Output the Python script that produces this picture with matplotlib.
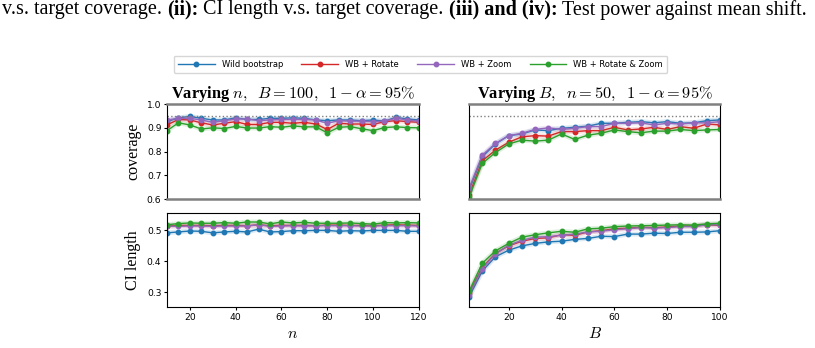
import matplotlib
matplotlib.use("Agg")
import matplotlib.pyplot as plt
import numpy as np

plt.rcParams["mathtext.fontset"] = "cm"
plt.rcParams["font.family"] = "DejaVu Sans"

n_vals = list(range(10, 121, 5))
B_vals = list(range(5, 101, 5))

labels = ["Wild bootstrap", "WB + Rotate", "WB + Zoom", "WB + Rotate & Zoom"]
colors = ["#1f77b4", "#d62728", "#9467bd", "#2ca02c"]

# coverage, varying n
cov_n = {
    "Wild bootstrap": [0.926, 0.942, 0.948, 0.940, 0.933, 0.933, 0.942, 0.935, 0.935, 0.940, 0.940,
                       0.942, 0.940, 0.933, 0.930, 0.933, 0.933, 0.930, 0.933, 0.928, 0.944, 0.937, 0.933],
    "WB + Rotate": [0.912, 0.935, 0.933, 0.921, 0.912, 0.919, 0.926, 0.914, 0.914, 0.923, 0.923,
                    0.919, 0.923, 0.916, 0.893, 0.919, 0.916, 0.916, 0.914, 0.926, 0.930, 0.926, 0.923],
    "WB + Zoom": [0.933, 0.940, 0.940, 0.933, 0.923, 0.930, 0.937, 0.937, 0.930, 0.933, 0.935,
                  0.935, 0.935, 0.933, 0.919, 0.930, 0.928, 0.928, 0.926, 0.928, 0.940, 0.933, 0.928],
    "WB + Rotate & Zoom": [0.888, 0.921, 0.912, 0.895, 0.900, 0.897, 0.906, 0.899, 0.899, 0.905, 0.902,
                           0.908, 0.904, 0.904, 0.879, 0.902, 0.905, 0.896, 0.888, 0.901, 0.904, 0.901, 0.900],
}

# coverage, varying B
cov_B = {
    "Wild bootstrap": [0.638, 0.778, 0.832, 0.867, 0.874, 0.891, 0.888, 0.898, 0.902, 0.907,
                       0.919, 0.919, 0.923, 0.926, 0.921, 0.926, 0.919, 0.921, 0.930, 0.933],
    "WB + Rotate": [0.617, 0.761, 0.806, 0.839, 0.862, 0.867, 0.865, 0.884, 0.884, 0.888,
                    0.888, 0.902, 0.891, 0.895, 0.902, 0.893, 0.905, 0.898, 0.916, 0.912],
    "WB + Zoom": [0.645, 0.785, 0.834, 0.867, 0.877, 0.893, 0.900, 0.893, 0.898, 0.905,
                  0.905, 0.919, 0.919, 0.921, 0.912, 0.919, 0.916, 0.921, 0.921, 0.926],
    "WB + Rotate & Zoom": [0.607, 0.750, 0.796, 0.832, 0.848, 0.844, 0.848, 0.874, 0.851, 0.869,
                           0.877, 0.891, 0.884, 0.879, 0.886, 0.886, 0.893, 0.888, 0.891, 0.893],
}

# CI length, varying n
len_n = {
    "Wild bootstrap": [0.492, 0.495, 0.498, 0.497, 0.492, 0.495, 0.497, 0.495, 0.504, 0.495, 0.496,
                       0.499, 0.499, 0.500, 0.500, 0.497, 0.499, 0.498, 0.500, 0.500, 0.500, 0.497, 0.497],
    "WB + Rotate": [0.514, 0.516, 0.516, 0.516, 0.515, 0.516, 0.516, 0.515, 0.518, 0.515, 0.516,
                    0.516, 0.516, 0.515, 0.517, 0.517, 0.516, 0.516, 0.515, 0.517, 0.518, 0.517, 0.516],
    "WB + Zoom": [0.514, 0.513, 0.514, 0.514, 0.513, 0.514, 0.514, 0.514, 0.518, 0.513, 0.514,
                  0.515, 0.514, 0.515, 0.515, 0.515, 0.515, 0.514, 0.514, 0.515, 0.515, 0.515, 0.514],
    "WB + Rotate & Zoom": [0.518, 0.522, 0.524, 0.523, 0.523, 0.525, 0.523, 0.527, 0.527, 0.521, 0.527,
                           0.524, 0.526, 0.523, 0.523, 0.523, 0.524, 0.522, 0.520, 0.525, 0.524, 0.525, 0.524],
}

# CI length, varying B
len_B = {
    "Wild bootstrap": [0.285, 0.369, 0.415, 0.436, 0.450, 0.458, 0.463, 0.465, 0.471, 0.474,
                       0.481, 0.480, 0.488, 0.488, 0.491, 0.490, 0.494, 0.494, 0.495, 0.499],
    "WB + Rotate": [0.298, 0.380, 0.426, 0.450, 0.465, 0.474, 0.476, 0.486, 0.484, 0.495,
                    0.499, 0.505, 0.507, 0.510, 0.509, 0.511, 0.514, 0.514, 0.518, 0.516],
    "WB + Zoom": [0.293, 0.377, 0.424, 0.452, 0.468, 0.478, 0.480, 0.484, 0.488, 0.495,
                  0.497, 0.502, 0.505, 0.509, 0.507, 0.509, 0.512, 0.512, 0.518, 0.518],
    "WB + Rotate & Zoom": [0.303, 0.394, 0.434, 0.458, 0.478, 0.486, 0.492, 0.497, 0.494, 0.505,
                           0.507, 0.512, 0.514, 0.515, 0.516, 0.517, 0.518, 0.517, 0.521, 0.523],
}

target = 0.95

fig = plt.figure(figsize=(8.15, 3.48), dpi=100)
ax_cn = fig.add_axes([0.2049, 0.428, 0.309, 0.273])
ax_cB = fig.add_axes([0.5755, 0.428, 0.308, 0.273], sharey=ax_cn)
ax_ln = fig.add_axes([0.2049, 0.117, 0.309, 0.270], sharex=ax_cn)
ax_lB = fig.add_axes([0.5755, 0.117, 0.308, 0.270], sharex=ax_cB, sharey=ax_ln)


def draw(ax, x, data):
    for lab, c in zip(labels, colors):
        ax.plot(x, data[lab], color=c, lw=3.5, alpha=0.15, solid_capstyle="round")
        ax.plot(x, data[lab], color=c, lw=1.0, marker="o", ms=3.2, label=lab)


draw(ax_cn, n_vals, cov_n)
draw(ax_cB, B_vals, cov_B)
draw(ax_ln, n_vals, len_n)
draw(ax_lB, B_vals, len_B)

for ax in (ax_cn, ax_cB):
    ax.axhline(target, color="gray", ls=":", lw=1.0)
    ax.set_ylim(0.6, 1.0)
    ax.spines["top"].set_color("gray")
    ax.spines["bottom"].set_color("gray")
    ax.spines["top"].set_linewidth(1.8)
    ax.spines["bottom"].set_linewidth(1.8)
    ax.tick_params(axis="x", bottom=False, labelbottom=False)

ax_cn.set_yticks([0.6, 0.7, 0.8, 0.9, 1.0])
ax_ln.set_ylim(0.252, 0.555)
ax_ln.set_yticks([0.3, 0.4, 0.5])
ax_cn.set_xlim(10, 120)
ax_cB.set_xlim(5, 100)
ax_ln.set_xticks([20, 40, 60, 80, 100, 120])
ax_lB.set_xticks([20, 40, 60, 80, 100])

for ax in (ax_cB, ax_lB):
    ax.tick_params(axis="y", left=False, labelleft=False)

for ax in (ax_cn, ax_cB, ax_ln, ax_lB):
    ax.tick_params(labelsize=6.6, length=2.5, width=0.8, pad=1.5)

serif = "Liberation Serif"
ax_cn.set_title(r"Varying $n,\;\; B = 100,\;\; 1-\alpha = 95\%$", fontsize=11.8,
                fontweight="bold", family=serif, pad=3)
ax_cB.set_title(r"Varying $B,\;\; n = 50,\;\; 1-\alpha = 95\%$", fontsize=11.8,
                fontweight="bold", family=serif, pad=3)
ax_cn.set_ylabel("coverage", fontsize=11.5, family=serif, labelpad=4)
ax_ln.set_ylabel("CI length", fontsize=11.5, family=serif, labelpad=4)
ax_ln.set_xlabel(r"$n$", fontsize=11.5, labelpad=3)
ax_lB.set_xlabel(r"$B$", fontsize=11.5, labelpad=3)

handles, leg_labels = ax_cn.get_legend_handles_labels()
keep = [i for i, h in enumerate(handles) if h.get_marker() == "o"]
fig.legend([handles[i] for i in keep], [leg_labels[i] for i in keep],
           loc="center", bbox_to_anchor=(0.516, 0.815), ncol=4, fontsize=6,
           frameon=True, handlelength=4.4, columnspacing=2.2, borderpad=0.5,
           handletextpad=0.85, edgecolor="#cccccc", fancybox=True)

# caption line above the chart
caption = [("v.s. target coverage.", "normal"), ("(ii):", "bold"),
           ("CI length v.s. target coverage.", "normal"), ("(iii) and (iv):", "bold"),
           ("Test power against mean shift.", "normal")]
renderer = fig.canvas.get_renderer()
base_size = 12.6
target_w = 806.0


def layout(size, draw_it):
    probe = fig.text(0, 0, "a a", fontsize=size, family=serif)
    w2 = probe.get_window_extent(renderer).width
    probe.set_text("aa")
    space_w = w2 - probe.get_window_extent(renderer).width
    probe.remove()
    x_px = 2.0
    for txt, wt in caption:
        t = fig.text(x_px / 815, 0.972, txt, fontsize=size, family=serif,
                     fontweight=wt, ha="left", va="center")
        x_px += t.get_window_extent(renderer).width + space_w
        if not draw_it:
            t.remove()
    return x_px - space_w - 2.0


cap_size = base_size * target_w / layout(base_size, False)
layout(cap_size, True)

fig.savefig("out.png", dpi=100)
